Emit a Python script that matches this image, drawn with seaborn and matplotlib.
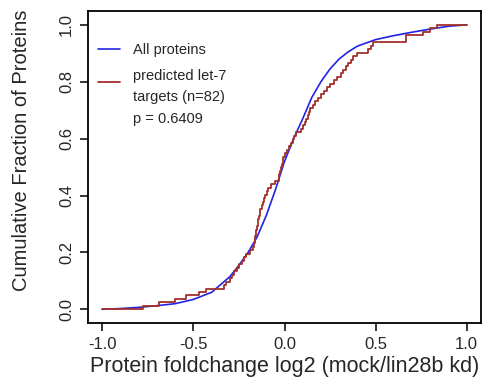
import matplotlib
matplotlib.use("Agg")
import matplotlib.pyplot as plt
import seaborn as sns
import numpy as np
import pandas as pd

# All proteins: smooth cumulative distribution
all_x = [-1.0, -0.9, -0.8, -0.7, -0.6, -0.5, -0.4, -0.3, -0.25, -0.2, -0.15, -0.1,
         -0.05, 0.0, 0.05, 0.1, 0.15, 0.2, 0.25, 0.3, 0.35, 0.4, 0.5, 0.6, 0.7,
         0.8, 0.9, 1.0]
all_y = [0.0, 0.003, 0.007, 0.013, 0.02, 0.035, 0.06, 0.115, 0.155, 0.2, 0.255,
         0.33, 0.42, 0.52, 0.6, 0.67, 0.745, 0.8, 0.845, 0.88, 0.905, 0.925,
         0.948, 0.962, 0.974, 0.985, 0.995, 1.0]

# predicted let-7 targets (n=82): sorted fold changes (estimated from the steps)
targets = [-0.775, -0.69, -0.60, -0.54, -0.47, -0.43, -0.33, -0.32, -0.30, -0.29,
           -0.277, -0.263, -0.25, -0.235, -0.222, -0.21, -0.19, -0.175, -0.168,
           -0.164, -0.161, -0.157, -0.154, -0.15, -0.146, -0.143, -0.139, -0.136,
           -0.132, -0.126, -0.119, -0.112, -0.105, -0.097, -0.09, -0.072, -0.05,
           -0.032, -0.028, -0.024, -0.02, -0.015, -0.011, -0.006, 0.003, 0.015,
           0.027, 0.037, 0.045, 0.053, 0.065, 0.09, 0.104, 0.112, 0.12, 0.127,
           0.135, 0.142, 0.155, 0.17, 0.185, 0.2, 0.215, 0.232, 0.25, 0.27, 0.29,
           0.31, 0.323, 0.337, 0.35, 0.365, 0.378, 0.40, 0.46, 0.475, 0.485,
           0.665, 0.668, 0.76, 0.80, 0.84]
range_x = [-1.0, 1.0]

x_ticks = [-1.0, -0.5, 0.0, 0.5, 1.0]
y_ticks = [0.0, 0.2, 0.4, 0.6, 0.8, 1.0]

BLUE = "#2222e6"
RED = "#a3302a"

sns.set_style("white")
plt.rcParams['font.family'] = ['Liberation Sans', 'DejaVu Sans']

fig = plt.figure(figsize=(4.88, 3.85), dpi=100)
ax = fig.add_axes([0.180, 0.161, 0.806, 0.810])

df_all = pd.DataFrame({"x": all_x, "y": all_y})
sns.lineplot(data=df_all, x="x", y="y", ax=ax, color=BLUE, lw=1.2,
             label="All proteins", sort=True)

n = len(targets)
tx = [range_x[0]] + list(targets) + [range_x[1]]
ty = [0.0] + [(i + 1) / n for i in range(n)] + [1.0]
df_t = pd.DataFrame({"x": tx, "y": ty})
sns.lineplot(data=df_t, x="x", y="y", ax=ax, color=RED, lw=1.3,
             drawstyle="steps-post", label="predicted let-7\ntargets (n=82)",
             sort=False)

ax.set_xlim(-1.08, 1.08)
ax.set_ylim(-0.048, 1.048)
ax.set_xticks(x_ticks)
ax.set_xticklabels([f"{v:.1f}" for v in x_ticks], fontsize=12)
ax.set_yticks(y_ticks)
ax.set_yticklabels([f"{v:.1f}" for v in y_ticks], fontsize=12, rotation=90,
                   va="center")
ax.tick_params(axis="both", direction="out", length=6, width=1.1, color="black",
               bottom=True, left=True, pad=4)
for s in ax.spines.values():
    s.set_color("black")
    s.set_linewidth(1.3)

ax.set_xlabel("Protein foldchange log2 (mock/lin28b kd)", fontsize=15.5, labelpad=3)
ax.set_ylabel("Cumulative Fraction of Proteins", fontsize=14.5)
ax.yaxis.set_label_coords(-0.145, 0.555)

leg = ax.legend(loc="upper left", frameon=False, fontsize=10.5, handlelength=1.5,
                handletextpad=0.9, labelspacing=0.8, borderaxespad=0.0,
                borderpad=0.0, bbox_to_anchor=(0.025, 0.898))
for t in leg.get_texts():
    t.set_linespacing(1.7)
# raise the red legend handle slightly (as in the original, near the first text line)
red_handle = leg.legend_handles[1]
yd = np.asarray(red_handle.get_ydata(), dtype=float)
red_handle.set_ydata(yd + 3.6)
ax.text(0.1145, 0.655, "p = 0.6409", transform=ax.transAxes, fontsize=10.5,
        va="center", ha="left")

fig.savefig("out.png", dpi=100)
